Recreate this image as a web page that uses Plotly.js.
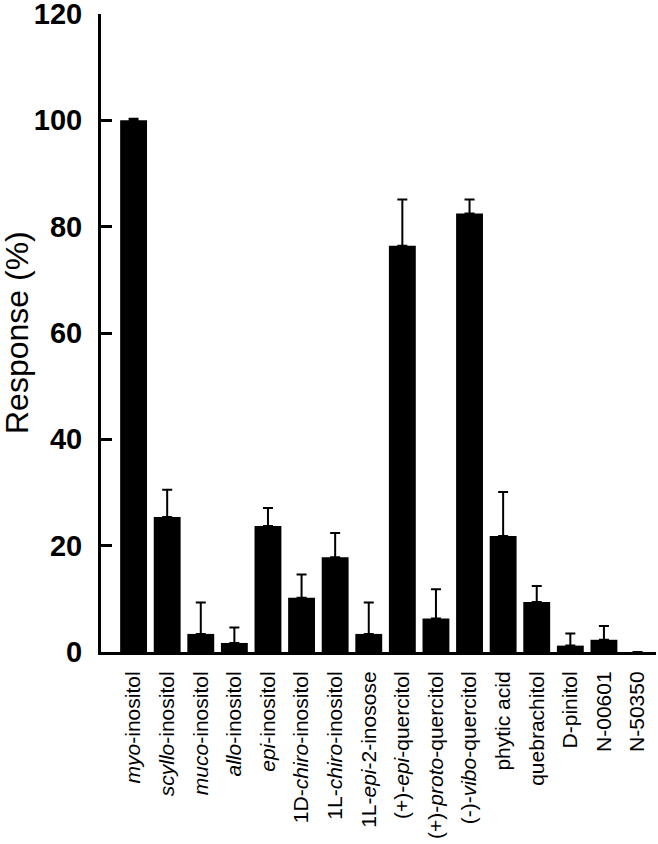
<!DOCTYPE html>
<html>
<head>
<meta charset="utf-8">
<script src="https://cdn.plot.ly/plotly-3.0.1.min.js"></script>
<style>html,body{margin:0;padding:0;background:#fff;}#chart{width:658px;height:844px;}</style>
</head>
<body>
<div id="chart"></div>
<script>
// Categories (tick labels, italic prefixes marked with <i>)
const categories = [
  "<i>myo</i>-inositol",
  "<i>scyllo</i>-inositol",
  "<i>muco</i>-inositol",
  "<i>allo</i>-inositol",
  "<i>epi</i>-inositol",
  "1D-<i>chiro</i>-inositol",
  "1L-<i>chiro</i>-inositol",
  "1L-<i>epi</i>-2-inosose",
  "(+)-<i>epi</i>-quercitol",
  "(+)-<i>proto</i>-quercitol",
  "(-)-<i>vibo</i>-quercitol",
  "phytic acid",
  "quebrachitol",
  "D-pinitol",
  "N-00601",
  "N-50350"
];
// Response (%) values
const responses = [100, 25.4, 3.4, 1.7, 23.7, 10.2, 17.8, 3.4, 76.4, 6.3, 82.5, 21.8, 9.4, 1.2, 2.3, 0];
// Upper error
const errorsUp = [0.3, 5.1, 5.9, 2.9, 3.4, 4.4, 4.6, 5.9, 8.7, 5.5, 2.6, 8.3, 3.0, 2.3, 2.6, 0];
const errorsDown = [0, 0, 0, 0, 0, 0, 0, 0, 0, 0, 0, 0, 0, 0, 0, 0];
const yTicks = [0, 20, 40, 60, 80, 100, 120];
const yTitle = 'Response (%)';

const xIdx = categories.map((c, i) => i);

const trace = {
  type: 'bar',
  x: xIdx,
  y: responses,
  width: 0.8,
  marker: {color: '#000000', line: {width: 0}},
  error_y: {
    type: 'data',
    symmetric: false,
    array: errorsUp,
    arrayminus: errorsDown,
    color: '#000000',
    thickness: 2,
    width: 5
  },
  hoverinfo: 'none'
};

const FONT = 'Liberation Sans, Arial, sans-serif';

const layout = {
  width: 658,
  height: 844,
  margin: {l: 101, r: 2, t: 14, b: 192, pad: 0},
  paper_bgcolor: '#ffffff',
  plot_bgcolor: '#ffffff',
  showlegend: false,
  font: {family: FONT, color: '#000'},
  xaxis: {
    range: [-0.97, 15.55],
    tickmode: 'array',
    tickvals: xIdx,
    ticktext: categories,
    tickangle: -90,
    ticks: '',
    showline: true,
    linewidth: 3,
    linecolor: '#000',
    showgrid: false,
    zeroline: false,
    tickfont: {family: FONT, size: 21, color: '#000'},
    ticklabelstandoff: 8,
    ticklabeloverflow: 'allow',
    automargin: false
  },
  yaxis: {
    range: [0, 120],
    tickmode: 'array',
    tickvals: yTicks,
    ticktext: yTicks.map(String),
    ticks: 'inside',
    ticklen: 11,
    tickwidth: 3,
    tickcolor: '#000',
    showline: true,
    linewidth: 3,
    linecolor: '#000',
    showgrid: false,
    zeroline: false,
    tickfont: {family: FONT, size: 29, color: '#000', weight: 700},
    ticklabelstandoff: 10,
    ticklabeloverflow: 'allow',
    automargin: false
  },
  annotations: [{
    text: yTitle,
    xref: 'paper', yref: 'paper',
    x: (17 - 101) / 555, y: 0.5,
    xanchor: 'center', yanchor: 'middle',
    textangle: -90,
    showarrow: false,
    font: {family: FONT, size: 32, color: '#000'}
  }]
};

Plotly.newPlot('chart', [trace], layout, {displayModeBar: false, staticPlot: true});
</script>
</body>
</html>
